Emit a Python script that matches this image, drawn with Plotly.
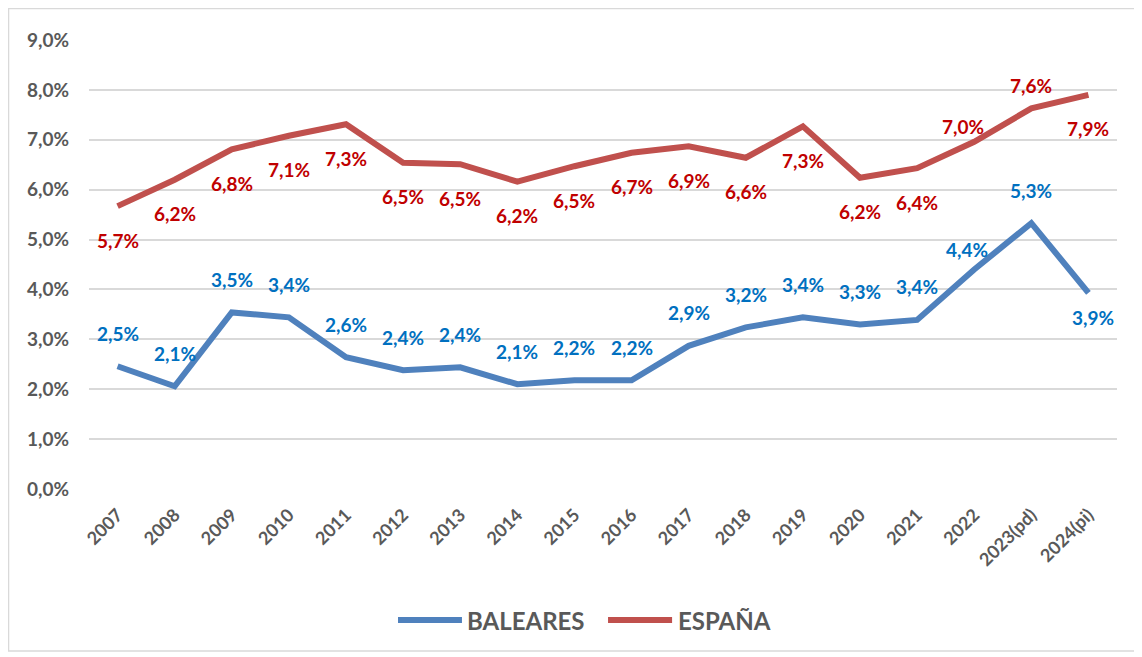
import plotly.graph_objects as go

years = ["2007", "2008", "2009", "2010", "2011", "2012", "2013", "2014", "2015",
         "2016", "2017", "2018", "2019", "2020", "2021", "2022", "2023(pd)", "2024(pi)"]
baleares = [2.46, 2.06, 3.54, 3.44, 2.64, 2.38, 2.44, 2.10, 2.18,
            2.18, 2.87, 3.24, 3.44, 3.30, 3.39, 4.40, 5.33, 3.93]
espana = [5.67, 6.20, 6.81, 7.08, 7.31, 6.54, 6.51, 6.16, 6.47,
          6.74, 6.87, 6.64, 7.27, 6.24, 6.43, 6.96, 7.63, 7.90]
y_ticks = [0, 1, 2, 3, 4, 5, 6, 7, 8, 9]

# label placement for each point
bal_place = ["above"] * 15 + ["aboveleft", "above", "belowright"]
esp_place = ["below"] * 15 + ["aboveleft2", "above2", "below"]

shift = {
    "above": (0, 33), "below": (0, -34), "aboveleft": (-7, 20),
    "belowright": (5, -25), "aboveleft2": (-11, 15), "above2": (0, 23),
}

def fmt(v):
    return f"{v:.1f}".replace(".", ",") + "%"

BLUE = "#4F81BD"
RED = "#C0504D"
BLUE_T = "#0070C0"
RED_T = "#C00000"
GREY = "#595959"
FONT = "Lato"

fig = go.Figure()
fig.add_trace(go.Scatter(x=years, y=baleares, mode="lines", name="BALEARES",
                         line=dict(color=BLUE, width=6), hoverinfo="skip"))
fig.add_trace(go.Scatter(x=years, y=espana, mode="lines", name="ESPAÑA",
                         line=dict(color=RED, width=6), hoverinfo="skip"))

anns = []
for series, places, col in ((baleares, bal_place, BLUE_T), (espana, esp_place, RED_T)):
    for i, (v, p) in enumerate(zip(series, places)):
        dx, dy = shift[p]
        anns.append(dict(x=i, y=v, text=fmt(v), showarrow=False, xshift=dx, yshift=dy,
                         font=dict(family=FONT, size=19, color=col, weight="bold")))

# custom legend
legend_items = [("BALEARES", BLUE, 0.3006, 0.3628, 0.3658),
                ("ESPAÑA", RED, 0.5049, 0.5672, 0.5710)]
shapes = []
ly = -0.2918
for name, col, x0, x1, xt in legend_items:
    shapes.append(dict(type="line", xref="paper", yref="paper", x0=x0, x1=x1, y0=ly, y1=ly,
                       line=dict(color=col, width=6)))
    anns.append(dict(xref="paper", yref="paper", x=xt, y=ly, text=name, showarrow=False,
                     xanchor="left", yanchor="middle",
                     font=dict(family=FONT, size=24, color=GREY, weight="bold")))

# outer border
shapes.append(dict(type="rect", xref="paper", yref="paper", x0=-0.0783, x1=1.0185,
                   y0=-0.3608, y1=1.0702, line=dict(color="#D9D9D9", width=1.5),
                   fillcolor="rgba(0,0,0,0)", layer="below"))

fig.update_layout(
    width=1134, height=649,
    margin=dict(l=81, r=25, t=32, b=168),
    paper_bgcolor="white", plot_bgcolor="white",
    showlegend=False,
    annotations=anns, shapes=shapes,
    font=dict(family=FONT),
    hovermode=False,
)
fig.update_xaxes(type="category", range=[-0.5, 17.5], tickangle=-45, showgrid=False,
                 showline=False, ticks="", ticklabelstandoff=11,
                 tickfont=dict(family=FONT, size=18, color=GREY, weight="bold"))
fig.update_yaxes(range=[0, 9], tickvals=y_ticks, ticktext=[fmt(t) for t in y_ticks],
                 showgrid=True, gridcolor="#D9D9D9", gridwidth=1.5, zeroline=False,
                 showline=False, ticks="", ticklabelstandoff=19,
                 tickfont=dict(family=FONT, size=19, color=GREY, weight="bold"))

fig.write_html("out.html")
